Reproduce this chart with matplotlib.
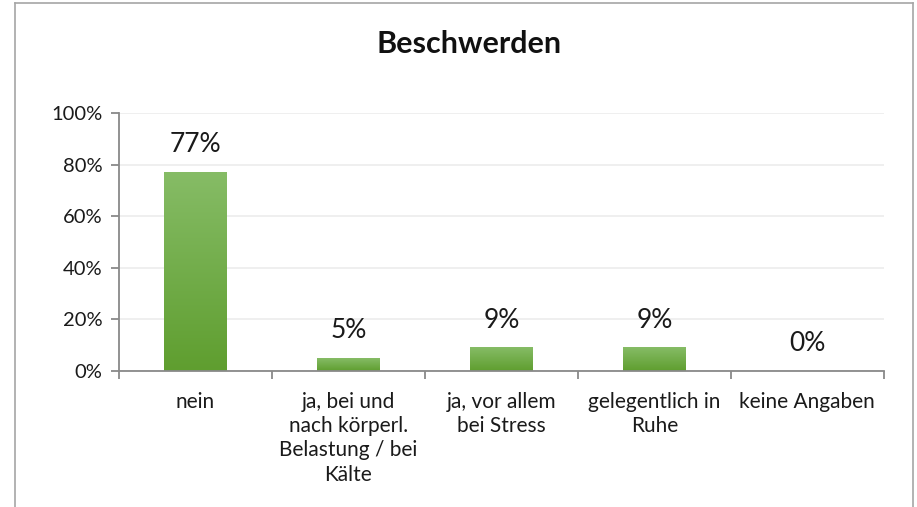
import numpy as np
import matplotlib
matplotlib.use("Agg")
import matplotlib.pyplot as plt
import matplotlib.colors as mcolors
from matplotlib.lines import Line2D

plt.rcParams['font.family'] = ['Lato', 'DejaVu Sans']

# Data
categories = ["nein",
              "ja, bei und\nnach körperl.\nBelastung / bei\nKälte",
              "ja, vor allem\nbei Stress",
              "gelegentlich in\nRuhe",
              "keine Angaben"]
values = [77, 5, 9, 9, 0]
y_ticks = [0, 20, 40, 60, 80, 100]

AXIS_COLOR = "#898989"
GRID_COLOR = "#ececec"
TOP_GREEN = "#86bc66"
BOTTOM_GREEN = "#5f9e2f"

fig = plt.figure(figsize=(9.17, 5.07), dpi=100)
ax = fig.add_axes([0.1298, 0.2682, 0.834, 0.5089])

n = len(categories)
x = np.arange(n)
bar_w = 0.41

# gradient bars
cmap = mcolors.LinearSegmentedColormap.from_list("bar_grad", [BOTTOM_GREEN, TOP_GREEN])
grad = np.linspace(0, 1, 256).reshape(-1, 1)
for xi, v in zip(x, values):
    if v > 0:
        ax.imshow(grad, cmap=cmap, origin="lower", aspect="auto",
                  extent=(xi - bar_w / 2, xi + bar_w / 2, 0, v), zorder=2)
    ax.annotate(f"{v}%", (xi, v), xytext=(0, 11), textcoords="offset points",
                ha="center", va="bottom", fontsize=19, color="#1a1a1a")
ax.set_xlim(-0.5, n - 0.5)
ax.set_ylim(0, 100)

# grid and spines
ax.set_yticks(y_ticks)
ax.set_yticklabels([f"{t}%" for t in y_ticks], fontsize=14.5, color="#1a1a1a")
ax.yaxis.grid(True, color=GRID_COLOR, linewidth=1.2, zorder=0)
ax.set_axisbelow(True)
for s in ["top", "right"]:
    ax.spines[s].set_visible(False)
for s in ["left", "bottom"]:
    ax.spines[s].set_color(AXIS_COLOR)
    ax.spines[s].set_linewidth(1.3)
ax.tick_params(axis="y", length=6, width=1.3, color=AXIS_COLOR, pad=6)

# x ticks at category boundaries, labels centered
ax.set_xticks(np.arange(-0.5, n, 1.0))
ax.set_xticklabels([])
ax.tick_params(axis="x", length=6, width=1.3, color=AXIS_COLOR)
ax.set_xticks(x, minor=True)
ax.set_xticklabels(categories, minor=True, fontsize=15, color="#1a1a1a",
                   linespacing=1.27, va="top")
ax.tick_params(axis="x", which="minor", length=0, pad=15)

fig.suptitle("Beschwerden", x=0.512, y=0.94, fontsize=22, fontweight="bold",
             color="#111111")

# outer chart frame (bottom edge is cut off)
frame_kw = dict(color="#a6a6a6", linewidth=1.2, transform=fig.transFigure)
fig.add_artist(Line2D([0.0165, 0.0165], [0.0, 0.995], **frame_kw))
fig.add_artist(Line2D([0.0165, 0.9955], [0.995, 0.995], **frame_kw))
fig.add_artist(Line2D([0.9955, 0.9955], [0.0, 0.995], **frame_kw))

fig.savefig("out.png", dpi=100)
